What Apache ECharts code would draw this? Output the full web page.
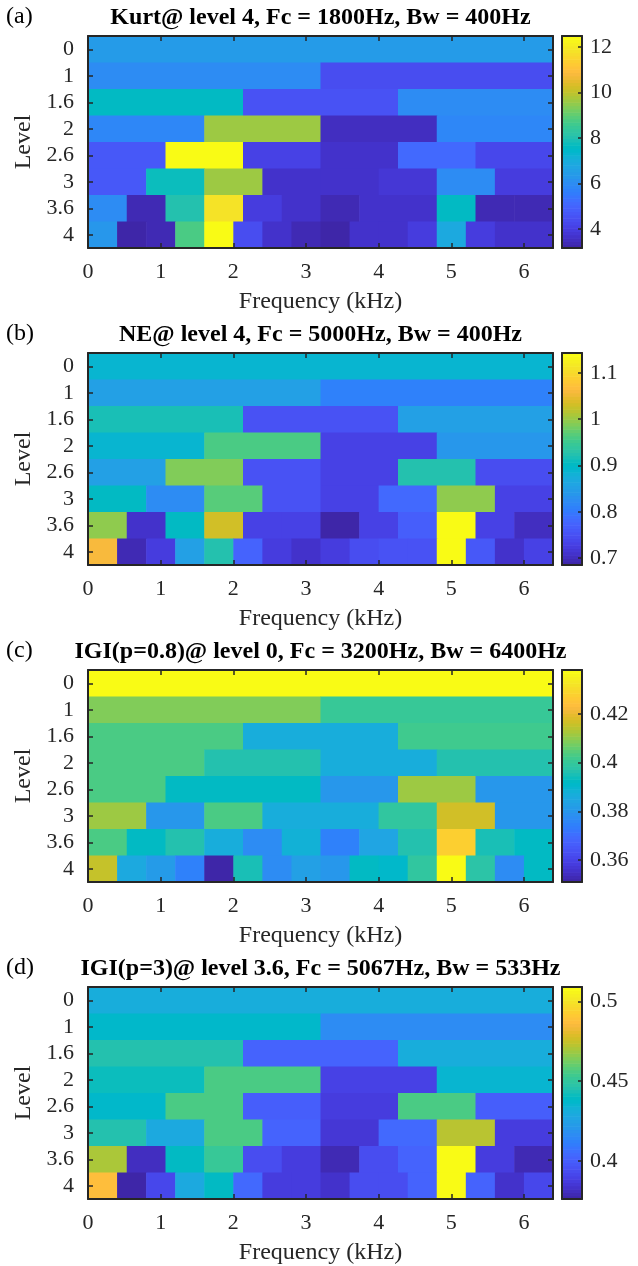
<!DOCTYPE html>
<html>
<head>
<meta charset="utf-8">
<style>
  html, body { margin: 0; padding: 0; background: #fff; }
  #main { width: 638px; height: 1266px; }
</style>
<script src="https://cdn.jsdelivr.net/npm/echarts@6/dist/echarts.min.js"></script>
</head>
<body>
<div id="main"></div>
<script>
// decomposition levels (rows) and frequency axis
const levels = ['0', '1', '1.6', '2', '2.6', '3', '3.6', '4'];
const fMax = 6.4; // kHz
const freqTicks = [0, 1, 2, 3, 4, 5, 6];

// (a) kurtosis, one row per level (1, 2, 3, 4, 6, 8, 12, 16 bands)
const kurtRows = [
  [6.43],
  [5.96, 4.47],
  [7.55, 4.56, 5.96],
  [5.87, 9.69, 3.53, 5.87],
  [4.65, 12.49, 4.09, 3.63, 5.12, 4.28],
  [4.65, 7.73, 9.6, 3.72, 3.72, 3.81, 5.96, 3.9],
  [5.96, 3.35, 8.1, 11.84, 3.9, 3.63, 3.44, 3.63, 3.63, 7.64, 3.44, 3.35],
  [6.24, 3.25, 3.44, 8.76, 12.49, 4.47, 3.63, 3.44, 3.2, 3.63, 3.63, 4.0, 6.89, 3.95, 3.63, 3.7]
];
// (b) negentropy
const neRows = [
  [0.887],
  [0.85, 0.809],
  [0.919, 0.754, 0.85],
  [0.891, 0.964, 0.731, 0.841],
  [0.85, 0.987, 0.754, 0.731, 0.928, 0.745],
  [0.9, 0.822, 0.969, 0.754, 0.731, 0.781, 0.996, 0.731],
  [0.996, 0.708, 0.9, 1.029, 0.731, 0.731, 0.69, 0.735, 0.767, 1.143, 0.733, 0.703],
  [1.061, 0.694, 0.722, 0.85, 0.928, 0.772, 0.722, 0.708, 0.722, 0.745, 0.754, 0.756, 1.143, 0.763, 0.708, 0.731]
];
// (c) IGI, p = 0.8
const igi08Rows = [
  [0.438],
  [0.4085, 0.4006],
  [0.4032, 0.3867, 0.402],
  [0.404, 0.397, 0.3867, 0.397],
  [0.403, 0.392, 0.392, 0.3797, 0.411, 0.3797],
  [0.4115, 0.3797, 0.403, 0.3867, 0.3867, 0.3997, 0.4165, 0.3797],
  [0.403, 0.392, 0.397, 0.3867, 0.377, 0.389, 0.3745, 0.384, 0.397, 0.4276, 0.3954, 0.392],
  [0.4155, 0.385, 0.3815, 0.3754, 0.351, 0.3945, 0.377, 0.383, 0.3797, 0.3928, 0.391, 0.3997, 0.438, 0.3975, 0.377, 0.3925]
];
// (d) IGI, p = 3
const igi3Rows = [
  [0.4305],
  [0.437, 0.416],
  [0.4465, 0.4026, 0.4305],
  [0.441, 0.457, 0.389, 0.436],
  [0.437, 0.456, 0.400, 0.3866, 0.456, 0.400],
  [0.445, 0.428, 0.456, 0.401, 0.385, 0.405, 0.472, 0.388],
  [0.4705, 0.381, 0.440, 0.452, 0.3946, 0.388, 0.3787, 0.3933, 0.4026, 0.509, 0.388, 0.3787],
  [0.4864, 0.3773, 0.392, 0.428, 0.4385, 0.405, 0.3866, 0.3866, 0.3827, 0.394, 0.394, 0.4026, 0.509, 0.401, 0.384, 0.391]
];

const panelTitles = [
  'Kurt@ level 4, Fc = 1800Hz, Bw = 400Hz',
  'NE@ level 4, Fc = 5000Hz, Bw = 400Hz',
  'IGI(p=0.8)@ level 0, Fc = 3200Hz, Bw = 6400Hz',
  'IGI(p=3)@ level 3.6, Fc = 5067Hz, Bw = 533Hz'
];
const panelTags = ['(a)', '(b)', '(c)', '(d)'];
const cbarRanges = [[3.16, 12.49], [0.685, 1.143], [0.351, 0.438], [0.376, 0.509]];
const cbarTicks = [
  [4, 6, 8, 10, 12],
  [0.7, 0.8, 0.9, 1, 1.1],
  [0.36, 0.38, 0.4, 0.42],
  [0.4, 0.45, 0.5]
];
const panelRows = [kurtRows, neRows, igi08Rows, igi3Rows];

// parula, 64 entries
const parula = [
  [0.2422,0.1504,0.6603],[0.2504,0.1650,0.7076],[0.2578,0.1818,0.7511],[0.2647,0.1978,0.7952],
  [0.2706,0.2147,0.8364],[0.2751,0.2342,0.8710],[0.2783,0.2559,0.8991],[0.2803,0.2782,0.9221],
  [0.2813,0.3006,0.9414],[0.2810,0.3228,0.9579],[0.2795,0.3447,0.9717],[0.2760,0.3667,0.9829],
  [0.2699,0.3892,0.9906],[0.2602,0.4123,0.9952],[0.2440,0.4358,0.9988],[0.2206,0.4603,0.9973],
  [0.1963,0.4847,0.9892],[0.1834,0.5074,0.9798],[0.1786,0.5289,0.9682],[0.1764,0.5499,0.9520],
  [0.1687,0.5703,0.9359],[0.1540,0.5902,0.9218],[0.1460,0.6091,0.9079],[0.1380,0.6276,0.8973],
  [0.1248,0.6459,0.8883],[0.1113,0.6635,0.8763],[0.0952,0.6798,0.8598],[0.0689,0.6948,0.8394],
  [0.0297,0.7082,0.8163],[0.0036,0.7203,0.7917],[0.0067,0.7312,0.7660],[0.0433,0.7411,0.7394],
  [0.0964,0.7500,0.7120],[0.1408,0.7584,0.6842],[0.1717,0.7670,0.6554],[0.1938,0.7758,0.6251],
  [0.2161,0.7843,0.5923],[0.2470,0.7918,0.5567],[0.2906,0.7973,0.5188],[0.3406,0.8008,0.4789],
  [0.3909,0.8029,0.4354],[0.4456,0.8024,0.3909],[0.5044,0.7993,0.3480],[0.5616,0.7942,0.3045],
  [0.6174,0.7876,0.2612],[0.6720,0.7793,0.2227],[0.7242,0.7698,0.1910],[0.7738,0.7598,0.1646],
  [0.8203,0.7498,0.1535],[0.8634,0.7406,0.1596],[0.9035,0.7330,0.1774],[0.9393,0.7288,0.2100],
  [0.9728,0.7298,0.2394],[0.9956,0.7434,0.2371],[0.9970,0.7659,0.2199],[0.9952,0.7893,0.2028],
  [0.9892,0.8136,0.1885],[0.9786,0.8386,0.1766],[0.9676,0.8639,0.1643],[0.9610,0.8890,0.1537],
  [0.9597,0.9135,0.1423],[0.9628,0.9373,0.1265],[0.9691,0.9606,0.1064],[0.9769,0.9839,0.0805]
];

function cmap (i) {
  const c = parula[Math.max(0, Math.min(63, i))];
  return 'rgb(' + c.map(function (v) { return Math.round(v * 255); }).join(',') + ')';
}
function colorOf (v, range) {
  const t = (v - range[0]) / (range[1] - range[0]);
  return cmap(Math.floor(t * 64));
}

const font = 'Liberation Serif, Times New Roman, serif';
const ink = '#262626';
const plotLeft = 88, plotW = 465, plotH = 212;
const cbarLeft = 562, cbarW = 20;
const panelTop = [36, 353, 670, 987];

const grid = [], xAxis = [], yAxis = [], series = [], title = [];

panelRows.forEach(function (rows, p) {
  const top = panelTop[p];
  const range = cbarRanges[p];
  const hg = grid.length;
  grid.push({ left: plotLeft, top: top, width: plotW, height: plotH });
  const cg = grid.length;
  grid.push({ left: cbarLeft, top: top, width: cbarW, height: plotH });

  const line = { show: true, onZero: false, lineStyle: { color: ink, width: 2 } };
  const tick = { show: true, inside: true, length: 5, lineStyle: { color: ink, width: 1.5 } };
  const lab = { color: ink, fontFamily: font, fontSize: 22 };

  // heat map axes
  const hxb = xAxis.length;
  xAxis.push({
    gridIndex: hg, type: 'value', min: 0, max: fMax, interval: 1, position: 'bottom', z: 10,
    axisLine: line, splitLine: { show: false },
    axisTick: Object.assign({}, tick, { customValues: freqTicks }),
    axisLabel: Object.assign({}, lab, { margin: 13, customValues: freqTicks }),
    name: 'Frequency (kHz)', nameLocation: 'middle', nameGap: 42,
    nameTextStyle: { color: ink, fontFamily: font, fontSize: 24 }
  });
  xAxis.push({
    gridIndex: hg, type: 'value', min: 0, max: fMax, interval: 1, position: 'top', z: 10,
    axisLine: line, splitLine: { show: false },
    axisTick: Object.assign({}, tick, { customValues: freqTicks }),
    axisLabel: { show: false }
  });
  const hyl = yAxis.length;
  yAxis.push({
    gridIndex: hg, type: 'category', data: levels, inverse: true, position: 'left', z: 10,
    axisLine: line, splitLine: { show: false },
    axisTick: Object.assign({}, tick, { alignWithLabel: true, interval: 0 }),
    axisLabel: Object.assign({}, lab, { margin: 14, interval: 0 }),
    name: 'Level', nameLocation: 'middle', nameGap: 40, nameRotate: 90,
    nameTextStyle: { color: ink, fontFamily: font, fontSize: 24 }
  });
  yAxis.push({
    gridIndex: hg, type: 'category', data: levels, inverse: true, position: 'right', z: 10,
    axisLine: line, splitLine: { show: false },
    axisTick: Object.assign({}, tick, { alignWithLabel: true, interval: 0 }),
    axisLabel: { show: false }
  });

  // colour bar axes
  const cxb = xAxis.length;
  xAxis.push({
    gridIndex: cg, type: 'value', min: 0, max: 1, position: 'bottom', z: 10,
    axisLine: line, axisTick: { show: false }, axisLabel: { show: false }, splitLine: { show: false }
  });
  xAxis.push({
    gridIndex: cg, type: 'value', min: 0, max: 1, position: 'top', z: 10,
    axisLine: line, axisTick: { show: false }, axisLabel: { show: false }, splitLine: { show: false }
  });
  yAxis.push({
    gridIndex: cg, type: 'value', min: range[0], max: range[1], position: 'left', z: 10,
    axisLine: line, axisTick: { show: false }, axisLabel: { show: false }, splitLine: { show: false }
  });
  const cyr = yAxis.length;
  yAxis.push({
    gridIndex: cg, type: 'value', min: range[0], max: range[1], position: 'right', z: 10,
    axisLine: line, splitLine: { show: false },
    axisTick: Object.assign({}, tick, { length: 4, customValues: cbarTicks[p] }),
    axisLabel: Object.assign({}, lab, { margin: 8, customValues: cbarTicks[p] })
  });

  // cells: [f0, f1, levelIndex, value]
  const cells = [];
  rows.forEach(function (vals, li) {
    const bw = fMax / vals.length;
    vals.forEach(function (v, k) {
      cells.push([k * bw, (k + 1) * bw, li, v]);
    });
  });
  series.push({
    type: 'custom', xAxisIndex: hxb, yAxisIndex: hyl, z: 2, silent: true,
    encode: { x: [0, 1], y: 2 },
    data: cells,
    renderItem: function (params, api) {
      const a = api.coord([api.value(0), api.value(2)]);
      const b = api.coord([api.value(1), api.value(2)]);
      const h = api.size([0, 1])[1];
      return {
        type: 'rect',
        shape: { x: a[0], y: a[1] - h / 2, width: b[0] - a[0] + 0.6, height: h + 0.6 },
        style: { fill: colorOf(api.value(3), range) }
      };
    }
  });

  // colour bar stripes
  const stripes = [];
  for (let i = 0; i < 64; i++) {
    stripes.push([i, range[0] + (range[1] - range[0]) * i / 64, range[0] + (range[1] - range[0]) * (i + 1) / 64]);
  }
  series.push({
    type: 'custom', xAxisIndex: cxb, yAxisIndex: cyr, z: 2, silent: true,
    encode: { y: [1, 2] },
    data: stripes,
    renderItem: function (params, api) {
      const a = api.coord([0, api.value(1)]);
      const b = api.coord([1, api.value(2)]);
      return {
        type: 'rect',
        shape: { x: a[0], y: b[1], width: b[0] - a[0], height: a[1] - b[1] + 0.6 },
        style: { fill: cmap(api.value(0)) }
      };
    }
  });

  title.push({
    text: panelTitles[p], left: plotLeft + plotW / 2, textAlign: 'center', top: top - 30, padding: 0,
    textStyle: { color: '#000', fontFamily: font, fontSize: 24, fontWeight: 'bold' }
  });
  title.push({
    text: panelTags[p], left: 6, top: top - 31, padding: 0,
    textStyle: { color: '#000', fontFamily: font, fontSize: 24, fontWeight: 'normal' }
  });
});

const chart = echarts.init(document.getElementById('main'), null, { renderer: 'canvas' });
chart.setOption({
  backgroundColor: '#fff',
  animation: false,
  title: title,
  grid: grid,
  xAxis: xAxis,
  yAxis: yAxis,
  series: series
});
</script>
</body>
</html>
